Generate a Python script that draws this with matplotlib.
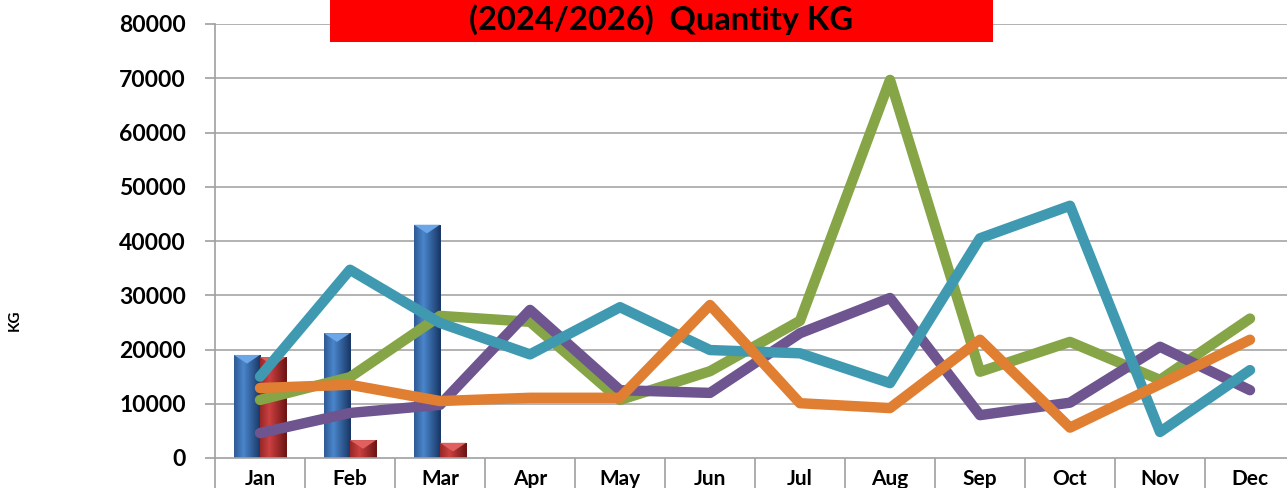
import matplotlib
matplotlib.use("Agg")
import matplotlib.pyplot as plt
import numpy as np
from matplotlib.patches import Rectangle, Polygon

plt.rcParams['font.family'] = ['Lato', 'DejaVu Sans']

months = ["Jan", "Feb", "Mar", "Apr", "May", "Jun", "Jul", "Aug", "Sep", "Oct", "Nov", "Dec"]
bars_blue = [19000, 23000, 43000]
bars_red = [18600, 3300, 2800]
green = [10700, 14900, 26200, 25100, 10700, 16000, 25300, 69700, 15900, 21400, 14400, 25700]
purple = [4600, 8300, 9800, 27300, 12500, 12000, 23000, 29500, 7900, 10200, 20500, 12500]
teal = [15000, 34700, 24900, 19100, 27800, 19900, 19300, 13800, 40500, 46500, 4800, 16200]
orange = [12900, 13500, 10500, 11100, 11100, 28200, 10100, 9200, 21800, 5600, 13600, 21800]
title = "(2024/2026)  Quantity KG"

W, H = 1287, 488
fig = plt.figure(figsize=(W / 100, H / 100), dpi=100)
ax = fig.add_axes([215 / W, 1 - 458 / H, 1080 / W, (458 - 24) / H])

x = np.arange(len(months))
ax.set_xlim(-0.5, len(months) - 0.5)
ax.set_ylim(0, 80000)

# grid
for v in range(10000, 80001, 10000):
    ax.axhline(v, color="#a6a6a6", lw=1.2, zorder=0)

bw = 0.29
grey = "#a0a0a0"

def grad_bar(xc, h, dark, mid, light, cap):
    r = Rectangle((xc - bw / 2, 0), bw, h, facecolor=mid, edgecolor="none", zorder=2)
    ax.add_patch(r)
    grad = np.linspace(0, 1, 64)
    prof = np.clip(1 - np.abs(grad - 0.35) * 1.6, 0, 1)
    cols = np.array([np.array(matplotlib.colors.to_rgb(dark)) * (1 - p) + np.array(matplotlib.colors.to_rgb(light)) * p for p in prof])
    img = ax.imshow(cols[np.newaxis, :, :], extent=(xc - bw / 2, xc + bw / 2, 0, h),
                    aspect="auto", zorder=2.1, interpolation="bilinear")
    img.set_clip_path(r)
    capH = 1600
    tri = Polygon([(xc - bw / 2, h), (xc + bw / 2, h), (xc, h - capH)], closed=True,
                  facecolor=cap, edgecolor="none", zorder=2.2)
    ax.add_patch(tri)

for i, v in enumerate(bars_blue):
    grad_bar(x[i] - bw / 2, v, "#1a3868", "#275a9e", "#4a86cc", "#6aa6e8")
for i, v in enumerate(bars_red):
    grad_bar(x[i] + bw / 2, v, "#6e1515", "#a52a2a", "#cc4040", "#e06060")

lw = 7.5
ax.plot(x, green, color="#86a546", lw=lw, solid_capstyle="round", solid_joinstyle="round", zorder=3)
ax.plot(x, purple, color="#6e5590", lw=lw, solid_capstyle="round", solid_joinstyle="round", zorder=3.1)
ax.plot(x, teal, color="#3f9ab1", lw=lw, solid_capstyle="round", solid_joinstyle="round", zorder=3.2)
ax.plot(x, orange, color="#e07f32", lw=lw, solid_capstyle="round", solid_joinstyle="round", zorder=3.3)

# axes styling
for s in ["top", "right"]:
    ax.spines[s].set_visible(False)
ax.spines["left"].set_color(grey)
ax.spines["bottom"].set_color(grey)
ax.spines["left"].set_linewidth(1.2)
ax.spines["bottom"].set_linewidth(1.2)
ax.set_yticks(range(0, 80001, 10000))
ax.set_yticklabels([str(v) for v in range(0, 80001, 10000)], fontsize=16.5, fontweight="bold")
ax.tick_params(axis="y", direction="out", length=7, width=1.2, color=grey, pad=14)
ax.set_xticks(x)
ax.set_xticklabels(months, fontsize=15, fontweight="bold")
ax.tick_params(axis="x", which="major", length=0, pad=8)
ax.set_xticks(np.arange(-0.5, len(months), 1), minor=True)
ax.tick_params(axis="x", which="minor", direction="out", length=30, width=1.2, color=grey)

fig.text(15 / W, 1 - 320 / H, "KG", rotation=90, ha="center", va="center", fontsize=11, fontweight="bold")

# title box
fig.patches.append(Rectangle((330 / W, 1 - 42 / H), (993 - 330) / W, 42 / H + 0.01,
                             transform=fig.transFigure, facecolor="#ff0000", edgecolor="none", zorder=5))
fig.text(661 / W, 1 - 20 / H, title, ha="center", va="center", fontsize=23.5, fontweight="bold", color="black", zorder=6)

fig.savefig("out.png", dpi=100)
